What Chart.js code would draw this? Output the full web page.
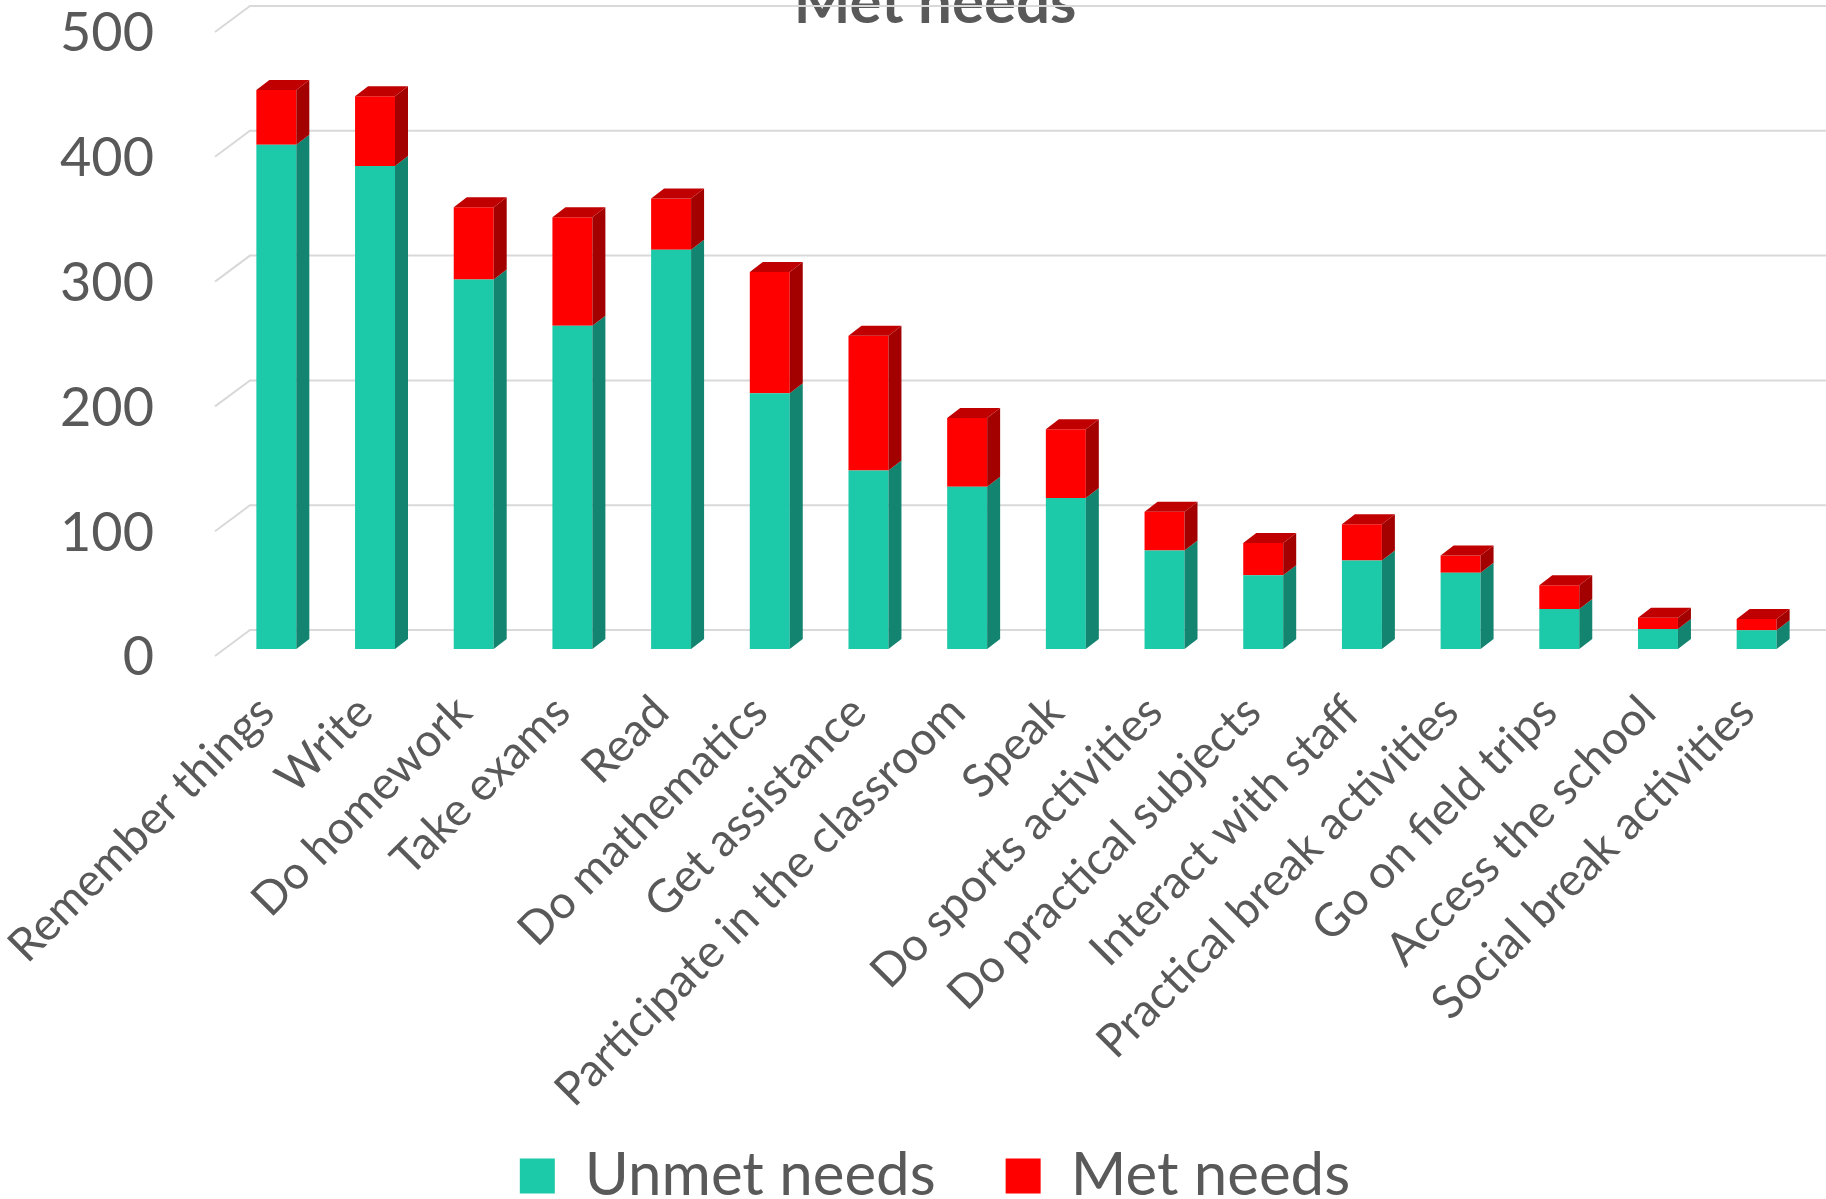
<!DOCTYPE html>
<html>
<head>
<meta charset="utf-8">
<script src="https://cdn.jsdelivr.net/npm/chart.js@4/dist/chart.umd.min.js"></script>
<style>
  html, body { margin: 0; padding: 0; background: #fff; overflow: hidden; }
  #moldura { position: absolute; left: 0; top: -27px; width: 1826px; height: 1243px; }
</style>
</head>
<body>
<div id="moldura"><canvas id="graficoNecessidades"></canvas></div>
<script>
const categorias = ['Remember things', 'Write', 'Do homework', 'Take exams', 'Read', 'Do mathematics',
  'Get assistance', 'Participate in the classroom', 'Speak', 'Do sports activities',
  'Do practical subjects', 'Interact with staff', 'Practical break activities',
  'Go on field trips', 'Access the school', 'Social break activities']
const naoAtendidas = [404, 387, 296, 259, 320, 205, 143, 130, 121, 79, 59, 71, 61, 32, 16, 15]
const atendidas = [44, 56, 58, 87, 41, 97, 108, 55, 55, 31, 26, 29, 14, 19, 9, 9]
const valoresEixoY = [0, 100, 200, 300, 400, 500]

const corTexto = '#595959'
// deslocamento da profundidade 3D (lado e topo das barras)
const PROF_X = 13
const PROF_Y = 10

function poligono(ctx, pontos, cor){
  ctx.fillStyle = cor
  ctx.beginPath()
  ctx.moveTo(pontos[0][0], pontos[0][1])
  pontos.slice(1).forEach(p => ctx.lineTo(p[0], p[1]))
  ctx.closePath()
  ctx.fill()
}

// grade na parede do fundo + faces laterais/topo das barras
const efeito3d = {
  id: 'efeito3d',
  afterLayout(grafico){
    // os rotulos inclinados passam da caixa do eixo x, entao abre a area de recorte
    grafico.scales.x.bottom = grafico.height
    grafico.scales.y.left = 0
  },
  beforeDatasetsDraw(grafico){
    const {ctx, chartArea, scales: {y}} = grafico
    ctx.save()
    ctx.strokeStyle = '#d9d9d9'
    ctx.lineWidth = 2
    y.ticks.forEach(tick => {
      const py = y.getPixelForValue(tick.value) - 19
      const px = chartArea.left + 23
      ctx.beginPath()
      ctx.moveTo(px - 35, py + 26)
      ctx.lineTo(px, py)
      ctx.lineTo(grafico.width, py)
      ctx.stroke()
    })
    ctx.restore()
  },
  afterDatasetsDraw(grafico){
    const ctx = grafico.ctx
    const ultimo = grafico.data.datasets.length - 1
    ctx.save()
    grafico.data.datasets.forEach((dataSet, i) => {
      grafico.getDatasetMeta(i).data.forEach(barra => {
        const {x, y, base, width} = barra.getProps(['x', 'y', 'base', 'width'], true)
        const esq = x - width / 2
        const dir = x + width / 2
        poligono(ctx, [[dir, y], [dir + PROF_X, y - PROF_Y], [dir + PROF_X, base - PROF_Y], [dir, base]], dataSet.corLateral)
        if (i === ultimo) {
          poligono(ctx, [[esq, y], [esq + PROF_X, y - PROF_Y], [dir + PROF_X, y - PROF_Y], [dir, y]], dataSet.corTopo)
        }
      })
    })
    ctx.restore()
  }
}

Chart.defaults.font.family = 'Lato'
Chart.defaults.color = corTexto

const grafico = document.querySelector('#graficoNecessidades')
const graficoNecessidades = new Chart(grafico, {
  type: 'bar',
  data: {
    labels: categorias,
    datasets: [{
      label: 'Unmet needs',
      data: naoAtendidas,
      backgroundColor: '#1cc9a9',
      corLateral: '#13846f',
      corTopo: '#17a88d',
      borderWidth: 0
    }, {
      label: 'Met needs',
      data: atendidas,
      backgroundColor: '#ff0000',
      corLateral: '#a30000',
      corTopo: '#c00000',
      borderWidth: 0
    }]
  },
  options: {
    responsive: true,
    maintainAspectRatio: false,
    animation: false,
    layout: { padding: { left: 64, right: 20, top: 0, bottom: 0 } },
    datasets: { bar: { barPercentage: 0.405, categoryPercentage: 1 } },
    scales: {
      x: {
        stacked: true,
        grid: { display: false, drawTicks: false },
        border: { display: false },
        ticks: {
          autoSkip: false,
          minRotation: 45,
          maxRotation: 45,
          padding: 36,
          labelOffset: -10,
          color: corTexto,
          font: { size: 46 }
        },
        afterFit(escala){
          escala.height = 427
          escala.paddingLeft = 0
          escala.paddingRight = 0
        }
      },
      y: {
        stacked: true,
        min: 0,
        max: 500,
        grid: { display: false, drawTicks: false },
        border: { display: false },
        ticks: {
          padding: 73,
          labelOffset: 9,
          color: corTexto,
          font: { size: 54 }
        },
        afterBuildTicks(escala){
          escala.ticks = valoresEixoY.map(v => ({ value: v }))
        },
        afterFit(escala){
          escala.width = 163
          escala.paddingTop = 0
          escala.paddingBottom = 0
        }
      }
    },
    plugins: {
      title: {
        display: true,
        text: 'Met needs',
        color: corTexto,
        font: { size: 60, weight: 'bold', lineHeight: 0.6 },
        padding: { top: 13, bottom: 3 }
      },
      legend: {
        position: 'bottom',
        labels: {
          boxWidth: 35,
          boxHeight: 35,
          padding: 70,
          color: corTexto,
          font: { size: 60 }
        }
      },
      tooltip: { enabled: false }
    }
  },
  plugins: [efeito3d]
})
</script>
</body>
</html>
